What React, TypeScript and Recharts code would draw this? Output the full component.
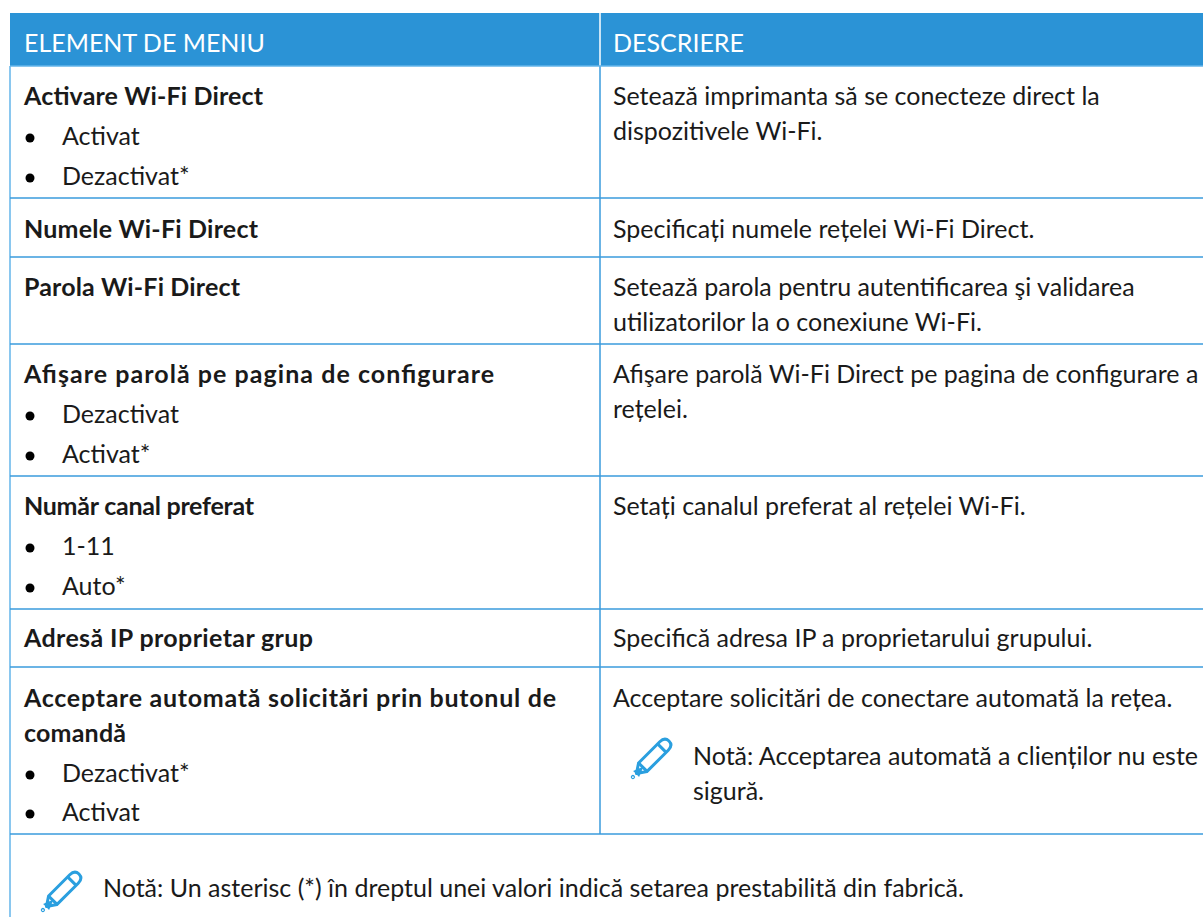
import { ReferenceArea, ReferenceLine, Scatter, ScatterChart, XAxis, YAxis } from "recharts";

const WIDTH = 1203;
const HEIGHT = 917;
const BLUE = "#2b93d6";
const LINE = "#3a9bdc";
const LIGHT = "#63b4ea";
const INK = "#1a1a1a";
const FONT = "Lato, sans-serif";

const columnHeaders = ["ELEMENT DE MENIU", "DESCRIERE"];
const menuTitles = [
  "Activare Wi-Fi Direct",
  "Numele Wi-Fi Direct",
  "Parola Wi-Fi Direct",
  "Afişare parolă pe pagina de configurare",
  "Număr canal preferat",
  "Adresă IP proprietar grup",
  "Acceptare automată solicitări prin butonul de",
  "comandă",
];
const menuOptions = ["Activat", "Dezactivat*", "Dezactivat", "Activat*", "1-11", "Auto*", "Dezactivat*", "Activat"];
const descLines = [
  "Setează imprimanta să se conecteze direct la",
  "dispozitivele Wi-Fi.",
  "Specificați numele rețelei Wi-Fi Direct.",
  "Setează parola pentru autentificarea şi validarea",
  "utilizatorilor la o conexiune Wi-Fi.",
  "Afişare parolă Wi-Fi Direct pe pagina de configurare a",
  "rețelei.",
  "Setați canalul preferat al rețelei Wi-Fi.",
  "Specifică adresa IP a proprietarului grupului.",
  "Acceptare solicitări de conectare automată la rețea.",
];
const noteLines = ["Notă: Acceptarea automată a clienților nu este", "sigură."];
const footNote = ["Notă: Un asterisc (*) în dreptul unei valori indică setarea prestabilită din fabrică."];

// layout (text baselines)
const titleY = [105, 238, 296, 383, 515, 647, 707, 742];
const titleEnds = [263, 258, 240, 494, 254, 313, 556, 126];
const optionY = [145, 185, 423, 463, 555, 595, 782, 821];
const descY = [105, 140, 238, 296, 331, 383, 418, 515, 647, 707];
const noteY = [765, 800];
const rowLines = [198, 257, 344, 476, 609, 667, 834];
const colX = 600;
const leftX = 10;
const titleX = 24;

const place = (texts: string[], px: number, ys: number[]) => texts.map((text, i) => ({ text, px, py: ys[i] }));

const textShape = (weight: number, fill: string) => (p: any) => (
  <text
    x={p.cx}
    y={p.cy}
    fontFamily={FONT}
    fontSize={25}
    fontWeight={weight}
    fill={fill}
    textLength={p.payload.span}
    lengthAdjust="spacing"
  >
    {p.payload.text}
  </text>
);
const bulletShape = (p: any) => <circle cx={p.cx} cy={p.cy} r={4.5} fill="#000" />;
const pencilShape = (p: any) => (
  <g transform={`translate(${p.cx},${p.cy}) rotate(-45)`} fill="none" stroke="#2a9fdf" strokeWidth={3}>
    <path d="M-13 -6 L17 -6 Q24 -6 24 0 Q24 6 17 6 L-13 6 Z" strokeLinejoin="round" />
    <path d="M14 -6 L14 6" />
    <path d="M-13 -6 L-22 0 L-13 6" strokeLinejoin="round" />
    <path d="M-21 -2 L-21 2 L-16 0 Z" fill="#2a9fdf" />
    <circle cx={-27} cy={0} r={0.6} />
  </g>
);

export default function App() {
  return (
    <div style={{ position: "absolute", left: 0, top: 0, width: WIDTH, height: HEIGHT, background: "#fff" }}>
      <ScatterChart width={WIDTH} height={HEIGHT} margin={{ top: 0, right: 0, bottom: 0, left: 0 }}>
        <XAxis hide type="number" dataKey="px" domain={[0, WIDTH]} />
        <YAxis hide type="number" dataKey="py" reversed domain={[0, HEIGHT]} />
        <ReferenceArea x1={leftX} x2={WIDTH} y1={13} y2={66} fill={BLUE} fillOpacity={1} stroke="none" />
        <ReferenceLine segment={[{ x: colX, y: 13 }, { x: colX, y: 66 }]} stroke="#fff" strokeWidth={1.5} />
        <ReferenceLine segment={[{ x: leftX, y: 66 }, { x: leftX, y: HEIGHT }]} stroke={LIGHT} strokeWidth={1.5} />
        <ReferenceLine segment={[{ x: colX, y: 66 }, { x: colX, y: 834 }]} stroke={LINE} strokeWidth={1.5} />
        <ReferenceLine segment={[{ x: leftX, y: 66 }, { x: WIDTH, y: 66 }]} stroke={LIGHT} strokeWidth={1.5} />
        {rowLines.map((y) => (
          <ReferenceLine key={y} segment={[{ x: leftX, y }, { x: WIDTH, y }]} stroke={LINE} strokeWidth={1.5} />
        ))}
        <Scatter
          isAnimationActive={false}
          data={[
            { text: columnHeaders[0], px: titleX, py: 52 },
            { text: columnHeaders[1], px: 613, py: 52 },
          ]}
          shape={textShape(400, "#fff")}
        />
        <Scatter
          isAnimationActive={false}
          data={place(menuTitles, titleX, titleY).map((row, i) => ({ ...row, span: titleEnds[i] - titleX }))}
          shape={textShape(700, INK)}
        />
        <Scatter isAnimationActive={false} data={place(menuOptions, 62, optionY)} shape={textShape(400, INK)} />
        <Scatter
          isAnimationActive={false}
          data={place(menuOptions, 30, optionY.map((y) => y - 7))}
          shape={bulletShape}
        />
        <Scatter isAnimationActive={false} data={place(descLines, 613, descY)} shape={textShape(400, INK)} />
        <Scatter isAnimationActive={false} data={place(noteLines, 693, noteY)} shape={textShape(400, INK)} />
        <Scatter isAnimationActive={false} data={place(footNote, 103, [897])} shape={textShape(400, INK)} />
        <Scatter
          isAnimationActive={false}
          data={[
            { px: 652, py: 758 },
            { px: 62, py: 891 },
          ]}
          shape={pencilShape}
        />
      </ScatterChart>
    </div>
  );
}
